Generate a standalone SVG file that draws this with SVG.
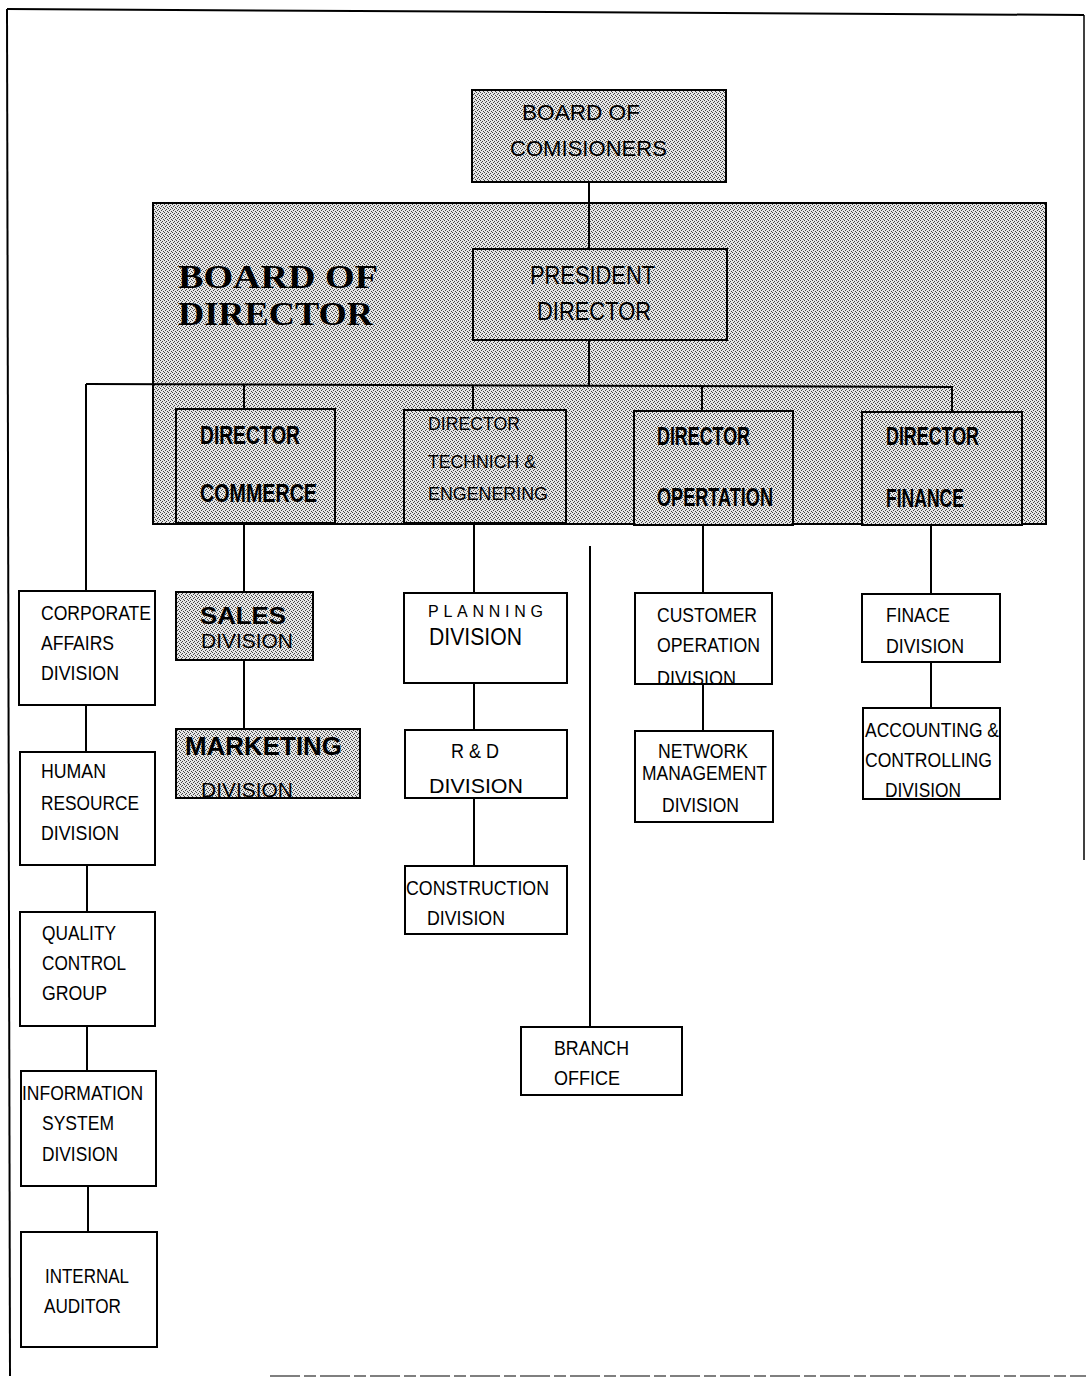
<svg xmlns="http://www.w3.org/2000/svg" width="1086" height="1377" viewBox="0 0 1086 1377">
<defs>
<pattern id="dots" x="0" y="0" width="4" height="4" patternUnits="userSpaceOnUse">
<rect width="4" height="4" fill="#e6e6e6"/>
<rect x="0" y="0" width="1" height="1" fill="#444"/>
<rect x="2" y="1" width="1" height="1" fill="#444"/>
<rect x="1" y="2" width="1" height="1" fill="#444"/>
<rect x="3" y="3" width="1" height="1" fill="#444"/>
</pattern>
<style>
.box{fill:#fff;stroke:#000;stroke-width:2}
.shd{fill:url(#dots);stroke:#000;stroke-width:2}
.con{stroke:#000;stroke-width:2;fill:none}
text{font-family:"Liberation Sans",Arial,sans-serif;fill:#000}
.r{font-size:20.5px}
.t{font-size:19px}
.b{font-weight:bold;font-size:26px}
.big{font-family:"Liberation Serif","Times New Roman",serif;font-weight:bold;font-size:33px}
</style>
</defs>
<rect width="1086" height="1377" fill="#fff"/>
<g id="frame" fill="none" stroke="#000">
<path d="M7,9 L1084,15" stroke-width="2"/>
<path d="M7,9 L10,1376" stroke-width="2"/>
<path d="M1084,15 L1084,860" stroke-width="1.5"/>
<path d="M270,1376 L1086,1376" stroke="#555" stroke-width="1.5" stroke-dasharray="30,4,12,4"/>
</g>
<g id="board-of-director">
<rect class="shd" x="153" y="203" width="893" height="321"/>
<text class="big" x="178" y="288" textLength="200" lengthAdjust="spacingAndGlyphs">BOARD  OF</text>
<text class="big" x="178" y="325" textLength="195" lengthAdjust="spacingAndGlyphs">DIRECTOR</text>
</g>
<g id="connectors" class="con">
<path d="M589,182 V249"/>
<path d="M589,340 V385"/>
<path d="M86,384 L952,387 V412"/>
<path d="M86,384 V591"/>
<path d="M244,384 V409"/>
<path d="M473,385 V410"/>
<path d="M702,386 V411"/>
<path d="M244,523 V592"/>
<path d="M244,660 V729"/>
<path d="M474,523 V593"/>
<path d="M474,683 V730"/>
<path d="M474,798 V866"/>
<path d="M590,546 V1027"/>
<path d="M703,525 V593"/>
<path d="M703,684 V731"/>
<path d="M931,525 V594"/>
<path d="M931,662 V708"/>
<path d="M86,705 V752"/>
<path d="M87,865 V912"/>
<path d="M87,1026 V1071"/>
<path d="M88,1186 V1232"/>
</g>
<g id="board-of-comisioners">
<rect class="shd" x="472" y="90" width="254" height="92"/>
<text style="font-size:22px" x="522" y="120" textLength="118" lengthAdjust="spacingAndGlyphs">BOARD OF</text>
<text style="font-size:22px" x="510" y="156" textLength="157" lengthAdjust="spacingAndGlyphs">COMISIONERS</text>
</g>
<g id="president-director">
<rect class="shd" x="473" y="249" width="254" height="91"/>
<text style="font-size:25px" x="530" y="284" textLength="125" lengthAdjust="spacingAndGlyphs">PRESIDENT</text>
<text style="font-size:25px" x="537" y="320" textLength="114" lengthAdjust="spacingAndGlyphs">DIRECTOR</text>
</g>
<g id="director-commerce">
<rect class="shd" x="176" y="409" width="159" height="114"/>
<text class="b" x="200" y="444" textLength="100" lengthAdjust="spacingAndGlyphs">DIRECTOR</text>
<text class="b" style="font-size:25px" x="200" y="502" textLength="117" lengthAdjust="spacingAndGlyphs">COMMERCE</text>
</g>
<g id="director-technich">
<rect class="shd" x="404" y="410" width="162" height="113"/>
<text class="t" x="428" y="430" textLength="92" lengthAdjust="spacingAndGlyphs">DIRECTOR</text>
<text class="t" x="428" y="468" textLength="108" lengthAdjust="spacingAndGlyphs">TECHNICH &amp;</text>
<text class="t" x="428" y="500" textLength="120" lengthAdjust="spacingAndGlyphs">ENGENERING</text>
</g>
<g id="director-operation">
<rect class="shd" x="634" y="411" width="159" height="114"/>
<text class="b" x="657" y="445" textLength="93" lengthAdjust="spacingAndGlyphs">DIRECTOR</text>
<text class="b" x="657" y="506" textLength="116" lengthAdjust="spacingAndGlyphs">OPERTATION</text>
</g>
<g id="director-finance">
<rect class="shd" x="862" y="412" width="160" height="113"/>
<text class="b" x="886" y="445" textLength="93" lengthAdjust="spacingAndGlyphs">DIRECTOR</text>
<text class="b" x="886" y="507" textLength="78" lengthAdjust="spacingAndGlyphs">FINANCE</text>
</g>
<g id="corporate-affairs">
<rect class="box" x="19" y="591" width="136" height="114"/>
<text class="r" x="41" y="620" textLength="110" lengthAdjust="spacingAndGlyphs">CORPORATE</text>
<text class="r" x="41" y="650" textLength="73" lengthAdjust="spacingAndGlyphs">AFFAIRS</text>
<text class="r" x="41" y="680" textLength="78" lengthAdjust="spacingAndGlyphs">DIVISION</text>
</g>
<g id="human-resource">
<rect class="box" x="20" y="752" width="135" height="113"/>
<text class="r" x="41" y="778" textLength="65" lengthAdjust="spacingAndGlyphs">HUMAN</text>
<text class="r" x="41" y="810" textLength="98" lengthAdjust="spacingAndGlyphs">RESOURCE</text>
<text class="r" x="41" y="840" textLength="78" lengthAdjust="spacingAndGlyphs">DIVISION</text>
</g>
<g id="quality-control">
<rect class="box" x="20" y="912" width="135" height="114"/>
<text class="r" x="42" y="940" textLength="74" lengthAdjust="spacingAndGlyphs">QUALITY</text>
<text class="r" x="42" y="970" textLength="84" lengthAdjust="spacingAndGlyphs">CONTROL</text>
<text class="r" x="42" y="1000" textLength="65" lengthAdjust="spacingAndGlyphs">GROUP</text>
</g>
<g id="information-system">
<rect class="box" x="21" y="1071" width="135" height="115"/>
<text class="r" x="22" y="1100" textLength="121" lengthAdjust="spacingAndGlyphs">INFORMATION</text>
<text class="r" x="42" y="1130" textLength="72" lengthAdjust="spacingAndGlyphs">SYSTEM</text>
<text class="r" x="42" y="1161" textLength="76" lengthAdjust="spacingAndGlyphs">DIVISION</text>
</g>
<g id="internal-auditor">
<rect class="box" x="21" y="1232" width="136" height="115"/>
<text class="r" x="45" y="1283" textLength="84" lengthAdjust="spacingAndGlyphs">INTERNAL</text>
<text class="r" x="44" y="1313" textLength="77" lengthAdjust="spacingAndGlyphs">AUDITOR</text>
</g>
<g id="sales-division">
<rect class="shd" x="176" y="592" width="137" height="68"/>
<text class="b" style="font-size:23px" x="200" y="624" textLength="86" lengthAdjust="spacingAndGlyphs">SALES</text>
<text class="r" x="201" y="648" textLength="92" lengthAdjust="spacingAndGlyphs">DIVISION</text>
</g>
<g id="marketing-division">
<rect class="shd" x="176" y="729" width="184" height="69"/>
<text class="b" x="185" y="755" textLength="157" lengthAdjust="spacingAndGlyphs">MARKETING</text>
<text class="r" x="201" y="797" textLength="92" lengthAdjust="spacingAndGlyphs">DIVISION</text>
</g>
<g id="planning-division">
<rect class="box" x="404" y="593" width="163" height="90"/>
<text style="font-size:16px" x="428" y="617" textLength="115" lengthAdjust="spacing">PLANNING</text>
<text style="font-size:23px" x="429" y="645" textLength="93" lengthAdjust="spacingAndGlyphs">DIVISION</text>
</g>
<g id="rd-division">
<rect class="box" x="405" y="730" width="162" height="68"/>
<text class="r" x="451" y="758" textLength="48" lengthAdjust="spacingAndGlyphs">R &amp; D</text>
<text class="r" x="429" y="793" textLength="94" lengthAdjust="spacingAndGlyphs">DIVISION</text>
</g>
<g id="construction-division">
<rect class="box" x="405" y="866" width="162" height="68"/>
<text class="r" x="406" y="895" textLength="143" lengthAdjust="spacingAndGlyphs">CONSTRUCTION</text>
<text class="r" x="427" y="925" textLength="78" lengthAdjust="spacingAndGlyphs">DIVISION</text>
</g>
<g id="branch-office">
<rect class="box" x="521" y="1027" width="161" height="68"/>
<text class="r" x="554" y="1055" textLength="75" lengthAdjust="spacingAndGlyphs">BRANCH</text>
<text class="r" x="554" y="1085" textLength="66" lengthAdjust="spacingAndGlyphs">OFFICE</text>
</g>
<g id="customer-operation">
<rect class="box" x="635" y="593" width="137" height="91"/>
<text class="r" x="657" y="622" textLength="100" lengthAdjust="spacingAndGlyphs">CUSTOMER</text>
<text class="r" x="657" y="652" textLength="103" lengthAdjust="spacingAndGlyphs">OPERATION</text>
<text class="r" x="657" y="685" textLength="79" lengthAdjust="spacingAndGlyphs">DIVISION</text>
<path d="M635,684 H772" stroke="#000" stroke-width="2"/>
</g>
<g id="network-management">
<rect class="box" x="635" y="731" width="138" height="91"/>
<text class="r" x="658" y="758" textLength="90" lengthAdjust="spacingAndGlyphs">NETWORK</text>
<text class="r" x="642" y="780" textLength="125" lengthAdjust="spacingAndGlyphs">MANAGEMENT</text>
<text class="r" x="662" y="812" textLength="77" lengthAdjust="spacingAndGlyphs">DIVISION</text>
</g>
<g id="finace-division">
<rect class="box" x="862" y="594" width="138" height="68"/>
<text class="r" x="886" y="622" textLength="64" lengthAdjust="spacingAndGlyphs">FINACE</text>
<text class="r" x="886" y="653" textLength="78" lengthAdjust="spacingAndGlyphs">DIVISION</text>
</g>
<g id="accounting-controlling">
<rect class="box" x="863" y="708" width="137" height="91"/>
<text class="r" x="865" y="737" textLength="134" lengthAdjust="spacingAndGlyphs">ACCOUNTING &amp;</text>
<text class="r" x="865" y="767" textLength="127" lengthAdjust="spacingAndGlyphs">CONTROLLING</text>
<text class="r" x="885" y="797" textLength="76" lengthAdjust="spacingAndGlyphs">DIVISION</text>
<path d="M863,799 H1000" stroke="#000" stroke-width="2"/>
</g>
</svg>
